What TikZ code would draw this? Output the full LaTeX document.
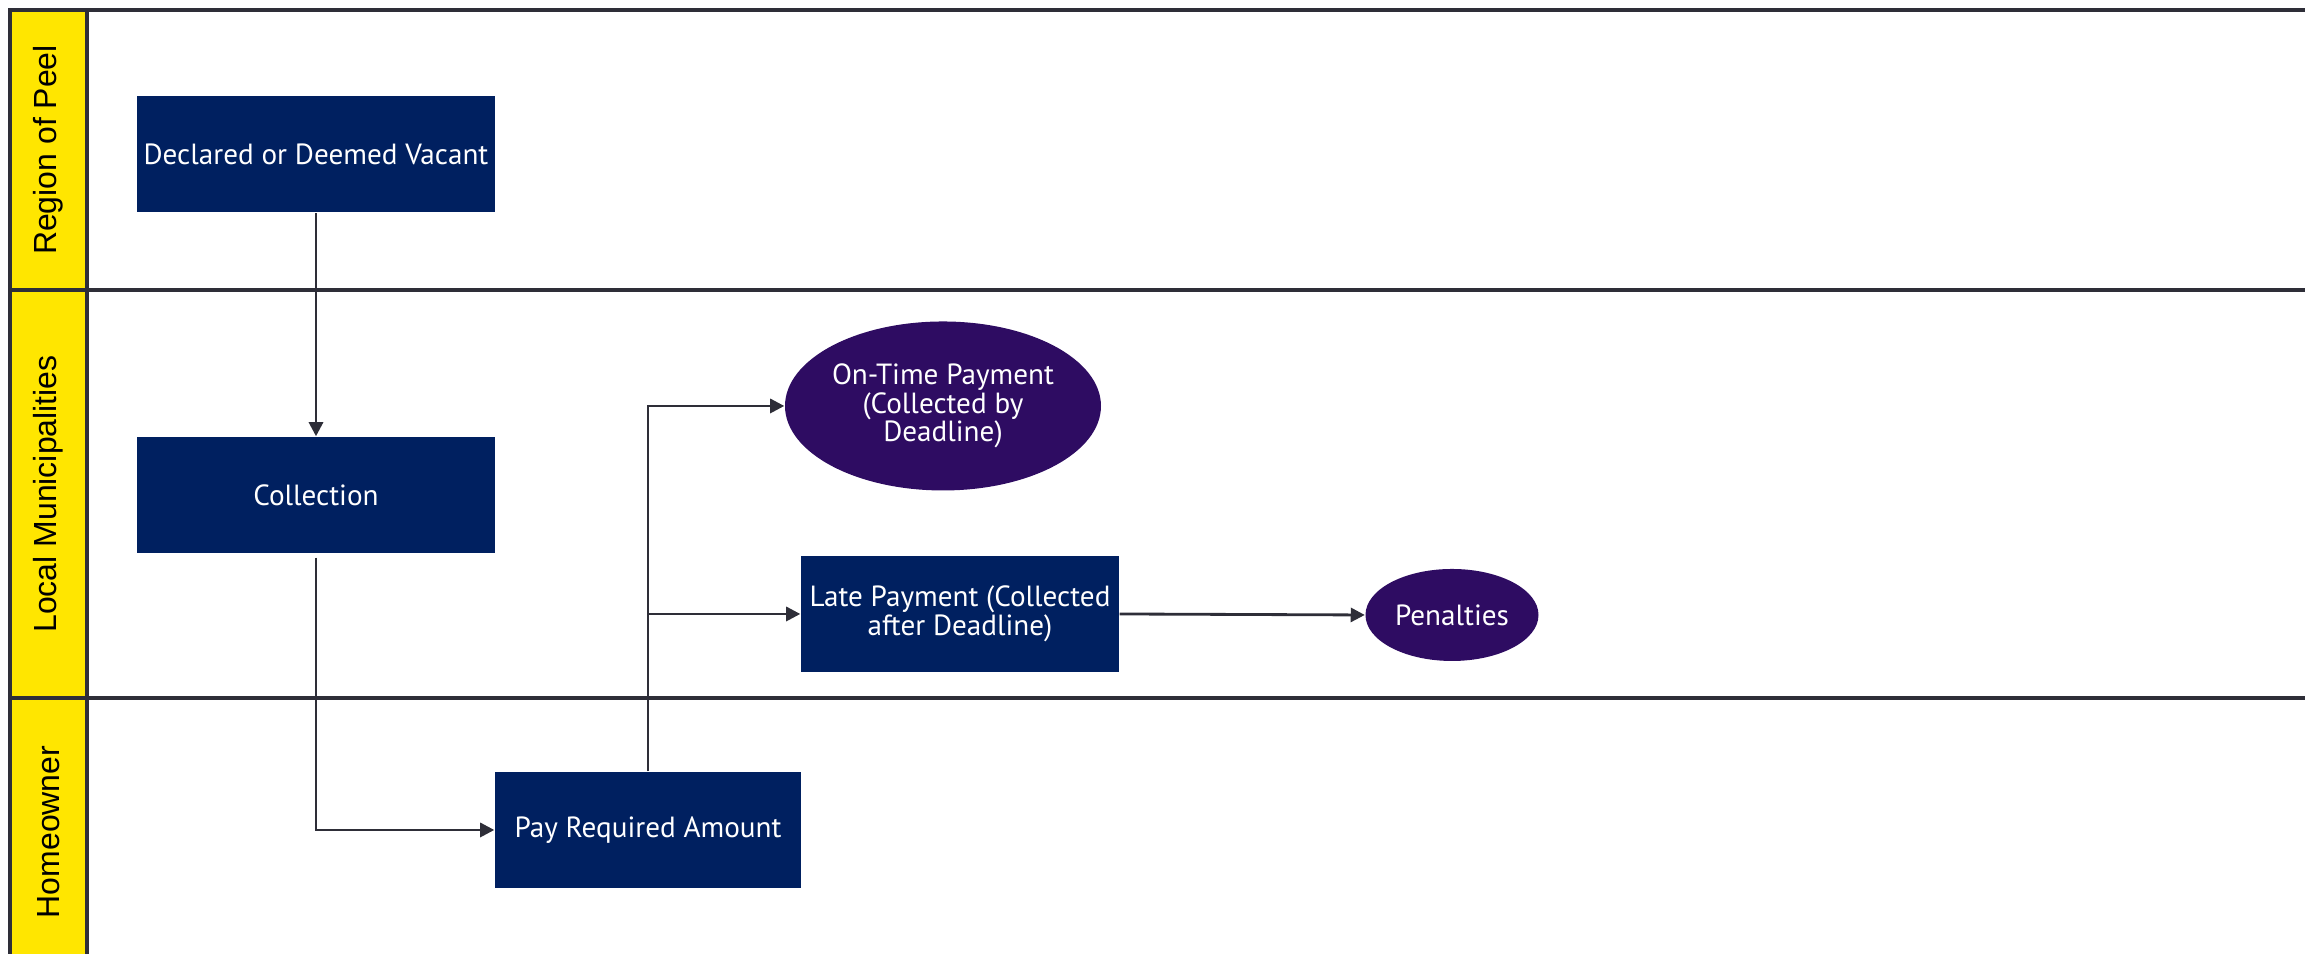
\documentclass[tikz,border=0pt]{standalone}
\usepackage{fontspec}
\setmainfont{PT Sans}
\newfontfamily\lanefont{Liberation Sans}
\usepackage{tikz}
\usetikzlibrary{arrows.meta,positioning,calc,shapes.geometric}
\definecolor{NavyBox}{HTML}{002060}
\definecolor{PurpleOval}{HTML}{2E0C62}
\definecolor{LaneYellow}{HTML}{FFE600}
\definecolor{LineGray}{HTML}{2E2E38}
\tikzset{
  taskbox/.style  = {rectangle, fill=NavyBox, text=white, align=center,
                     font=\fontsize{8.3}{8.3}\selectfont, inner sep=2pt,
                     minimum height=11.6mm},
  outcome/.style  = {ellipse, fill=PurpleOval, text=white, align=center,
                     font=\fontsize{8.3}{8.1}\selectfont, inner sep=0pt},
  lanelbl/.style  = {rotate=90, font=\lanefont\fontsize{9.1}{10}\selectfont,
                     text=black, inner sep=0pt},
  laneline/.style = {draw=LineGray, line width=1pt},
  flow/.style     = {-{Triangle[length=4pt,width=4pt]}, draw=LineGray,
                     line width=0.8pt},
}
\begin{document}
\begin{tikzpicture}
  \useasboundingbox (0,0) rectangle (23.05,9.54);
  % swimlanes
  \fill[LaneYellow] (0.10,0) rectangle (0.87,9.44);
  \draw[laneline] (0.10,0) -- (0.10,9.44) -- (23.05,9.44);
  \draw[laneline] (0.87,0) -- (0.87,9.44);
  \draw[laneline] (0.10,6.64) -- (23.05,6.64);
  \draw[laneline] (0.10,2.56) -- (23.05,2.56);
  \node[lanelbl] (peel)  at (0.485,8.04) {Region of Peel};
  \node[lanelbl] (local) at (0.485,4.60) {Local Municipalities};
  \node[lanelbl] (home)  at (0.485,1.22) {Homeowner};
  % steps
  \node[taskbox, minimum width=35.8mm] (vacant)  at (3.16,7.995) {Declared or Deemed Vacant};
  \node[taskbox, minimum width=35.8mm] (collect) at (3.16,4.59)  {Collection};
  \node[taskbox, minimum width=30.6mm] (pay)     at (6.48,1.24)  {Pay Required Amount};
  \node[outcome, minimum width=31.6mm, minimum height=16.9mm] (ontime) at (9.43,5.48)
    {On-Time Payment\\(Collected by\\Deadline)};
  \node[taskbox, minimum width=31.8mm] (late)    at (9.60,3.40)  {Late Payment (Collected\\after Deadline)};
  \node[outcome, minimum width=17.3mm, minimum height=9.2mm] (pen) at (14.52,3.39) {Penalties};
  \coordinate (split) at (pay.north |- late.west);
  % connectors
  \draw[flow] (vacant) -- (collect);
  \draw[flow, shorten <=0.04cm] (collect.south) |- (pay.west);
  \draw[flow] (pay.north) |- (ontime.west);
  \draw[flow] (split) -- (late.west);
  \draw[flow] (late.east) -- (pen.west);
\end{tikzpicture}
\end{document}
